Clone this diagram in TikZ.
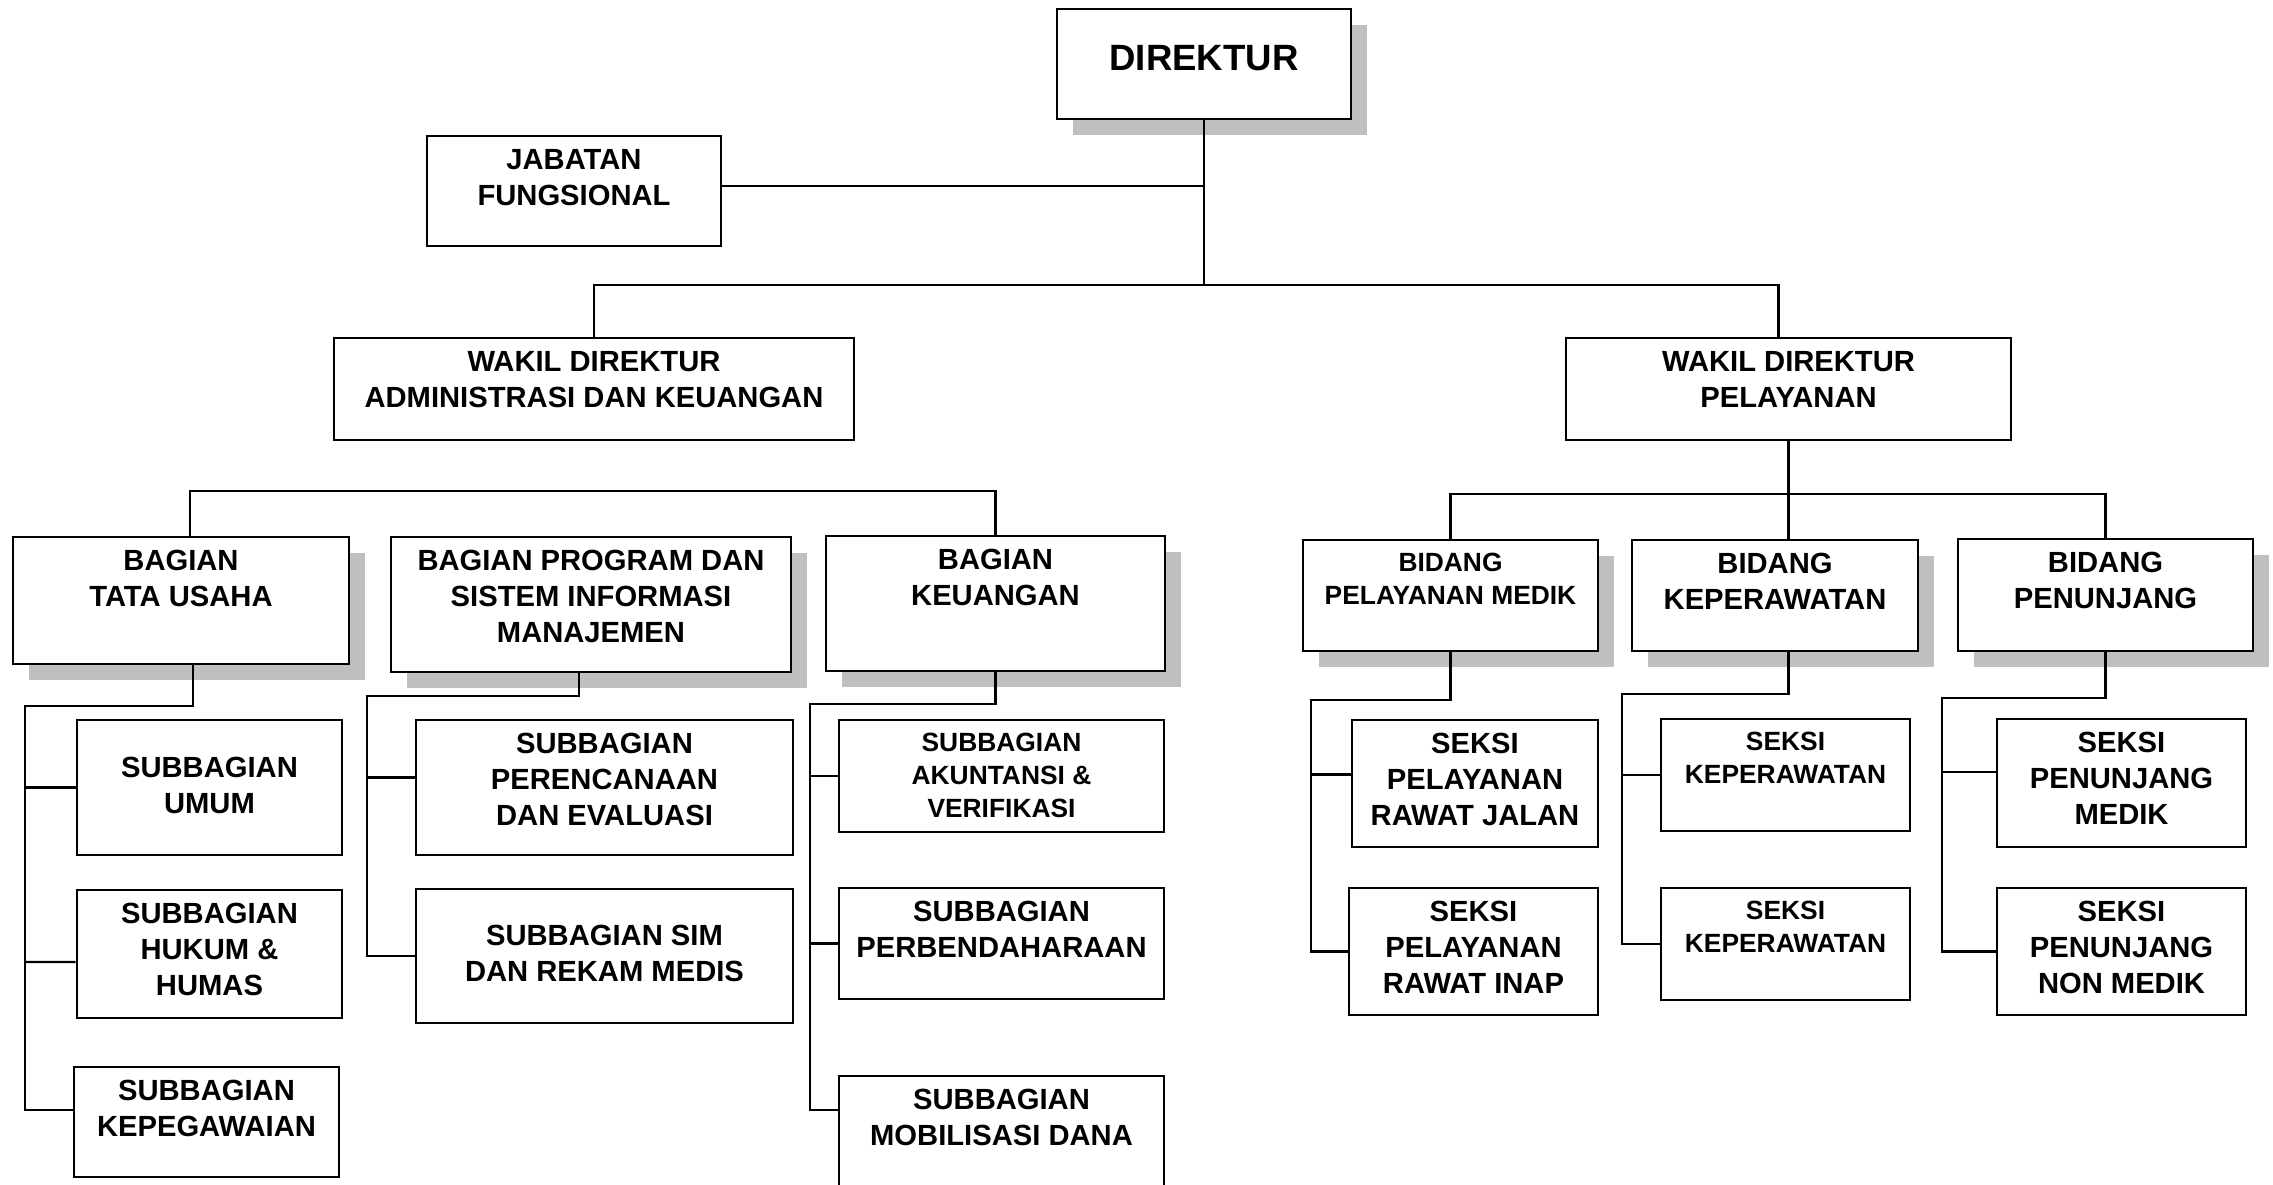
\documentclass[tikz,border=0pt]{standalone}
\usepackage{fontspec}
\setmainfont{Liberation Sans}
\usetikzlibrary{positioning}
\usetikzlibrary{fit}
\usetikzlibrary{shadows}

\begin{document}
\begin{tikzpicture}[x=0.01cm, y=-0.01cm,
   box/.style={draw, line width=0.75pt, fill=white, inner sep=0pt},
   shbox/.style={box, drop shadow={shadow xshift=0.16cm, shadow yshift=-0.16cm, fill=black!25, opacity=1}},
   txt/.style={inner sep=0pt, align=center, font=\bfseries\fontsize{8.3}{10.3}\selectfont},
   smalltxt/.style={txt, font=\bfseries\fontsize{7.5}{9.4}\selectfont},
   link/.style={line width=0.6pt}]
\useasboundingbox (0,0) rectangle (2273,1185);
\clip (0,0) rectangle (2273,1185);

\node[shbox, fit={(1057,9) (1351,119)}] (dir) {};
\node[txt, font=\bfseries\fontsize{10.4}{12}\selectfont, below=10.4pt of dir.north] (tdir) {DIREKTUR};
\node[box, fit={(427,136) (721,246)}] (jab) {};
\node[txt, below=3.9pt of jab.north] (tjab) {JABATAN\\FUNGSIONAL};
\node[box, fit={(334,338) (854,440)}] (wadm) {};
\node[txt, below=3.9pt of wadm.north] (twadm) {WAKIL DIREKTUR\\ADMINISTRASI DAN KEUANGAN};
\node[box, fit={(1566,338) (2011,440)}] (wpel) {};
\node[txt, below=3.9pt of wpel.north] (twpel) {WAKIL DIREKTUR\\PELAYANAN};

\node[shbox, fit={(13,537) (349,664)}] (tu) {};
\node[txt, below=3.9pt of tu.north] (ttu) {BAGIAN\\TATA USAHA};
\node[shbox, fit={(391,537) (791,672)}] (prg) {};
\node[txt, below=3.9pt of prg.north] (tprg) {BAGIAN PROGRAM DAN\\SISTEM INFORMASI\\MANAJEMEN};
\node[shbox, fit={(826,536) (1165,671)}] (keu) {};
\node[txt, below=3.9pt of keu.north] (tkeu) {BAGIAN\\KEUANGAN};
\node[shbox, fit={(1303,540) (1598,651)}] (pmed) {};
\node[smalltxt, below=3.9pt of pmed.north] (tpmed) {BIDANG\\PELAYANAN MEDIK};
\node[shbox, fit={(1632,540) (1918,651)}] (kep) {};
\node[txt, below=3.9pt of kep.north] (tkep) {BIDANG\\KEPERAWATAN};
\node[shbox, fit={(1958,539) (2253,651)}] (pen) {};
\node[txt, below=3.9pt of pen.north] (tpen) {BIDANG\\PENUNJANG};

\node[box, fit={(77,720) (342,855)}] (umum) {};
\node[txt, below=10.7pt of umum.north] (tumum) {SUBBAGIAN\\UMUM};
\node[box, fit={(77,890) (342,1018)}] (hkm) {};
\node[txt, below=3.9pt of hkm.north] (thkm) {SUBBAGIAN\\HUKUM \&\\HUMAS};
\node[box, fit={(74,1067) (339,1177)}] (kpg) {};
\node[txt, below=3.9pt of kpg.north] (tkpg) {SUBBAGIAN\\KEPEGAWAIAN};
\node[box, fit={(416,720) (793,855)}] (ren) {};
\node[txt, below=3.9pt of ren.north] (tren) {SUBBAGIAN\\PERENCANAAN\\DAN EVALUASI};
\node[box, fit={(416,889) (793,1023)}] (sim) {};
\node[txt, below=10.5pt of sim.north] (tsim) {SUBBAGIAN SIM\\DAN REKAM MEDIS};
\node[box, fit={(839,720) (1164,832)}] (akt) {};
\node[smalltxt, below=3.9pt of akt.north] (takt) {SUBBAGIAN\\AKUNTANSI \&\\VERIFIKASI};
\node[box, fit={(839,888) (1164,999)}] (pbd) {};
\node[txt, below=3.9pt of pbd.north] (tpbd) {SUBBAGIAN\\PERBENDAHARAAN};
\node[box, fit={(839,1076) (1164,1200)}] (mob) {};
\node[txt, below=3.9pt of mob.north] (tmob) {SUBBAGIAN\\MOBILISASI DANA};
\node[box, fit={(1352,720) (1598,847)}] (rjl) {};
\node[txt, below=3.9pt of rjl.north] (trjl) {SEKSI\\PELAYANAN\\RAWAT JALAN};
\node[box, fit={(1349,888) (1598,1015)}] (rin) {};
\node[txt, below=3.9pt of rin.north] (trin) {SEKSI\\PELAYANAN\\RAWAT INAP};
\node[box, fit={(1661,719) (1910,831)}] (sk1) {};
\node[smalltxt, below=3.9pt of sk1.north] (tsk1) {SEKSI\\KEPERAWATAN};
\node[box, fit={(1661,888) (1910,1000)}] (sk2) {};
\node[smalltxt, below=3.9pt of sk2.north] (tsk2) {SEKSI\\KEPERAWATAN};
\node[box, fit={(1997,719) (2246,847)}] (spm) {};
\node[txt, below=3.9pt of spm.north] (tspm) {SEKSI\\PENUNJANG\\MEDIK};
\node[box, fit={(1997,888) (2246,1015)}] (snm) {};
\node[txt, below=3.9pt of snm.north] (tsnm) {SEKSI\\PENUNJANG\\NON MEDIK};

\draw[link] (dir.south) -- ++(0,165) coordinate (bustop);
\draw[link] ([yshift=0.05cm]jab.east) -- ([yshift=0.05cm]jab.east -| dir.south);
\draw[link] (wadm.north) |- (bustop) -| ([xshift=-0.1cm]wpel.north);
\draw[link] ([xshift=0.09cm]tu.north) -- ++(0,-45) -| (keu.north);
\draw[link] (wpel.south) -- (wpel.south |- kep.north);
\draw[link] (pmed.north) -- ++(0,-45) -| (pen.north);

\coordinate (tuv) at (25,706);
\draw[link] ([xshift=0.12cm]tu.south) |- (tuv) |- ([yshift=0.12cm]kpg.west);
\draw[link] (tuv |- umum.west) -- (umum.west);
\draw[link] (tuv |- hkm.west) ++(0,8) -- ([yshift=-0.08cm]hkm.west);
\coordinate (prv) at (367,696);
\draw[link] ([xshift=-0.12cm]prg.south) |- (prv) |- (sim.west);
\draw[link] ([yshift=0.1cm]prv |- ren.west) -- ([yshift=0.1cm]ren.west);
\coordinate (kuv) at (810,704);
\coordinate (kub) at (810,1110);
\draw[link] (keu.south) |- (kuv) -- (kub) -- (kub -| mob.west);
\draw[link] (kuv |- akt.west) -- (akt.west);
\draw[link] (kuv |- pbd.west) -- (pbd.west);
\coordinate (pmv) at (1311,700);
\draw[link] (pmed.south) |- (pmv) |- (rin.west);
\draw[link] ([yshift=0.09cm]pmv |- rjl.west) -- ([yshift=0.09cm]rjl.west);
\coordinate (kpv) at (1622,694);
\draw[link] (wpel.south |- kep.south) |- (kpv) |- (sk2.west);
\draw[link] (kpv |- sk1.west) -- (sk1.west);
\coordinate (pnv) at (1942,698);
\draw[link] (pen.south) |- (pnv) |- (snm.west);
\draw[link] ([yshift=0.11cm]pnv |- spm.west) -- ([yshift=0.11cm]spm.west);
\end{tikzpicture}
\end{document}
